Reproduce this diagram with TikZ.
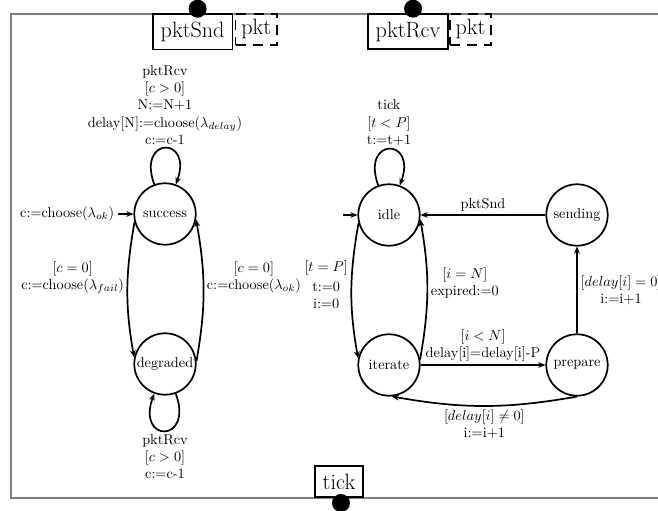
\documentclass[tikz,border=0pt]{standalone}
\usetikzlibrary{arrows.meta}

\begin{document}
\begin{tikzpicture}[x=0.7pt, y=0.7pt,
  state/.style={circle, draw, line width=1.2pt, minimum size=43pt, inner sep=0pt},
  chan/.style={draw, line width=1.2pt, fill=white, inner sep=5.5pt, font=\fontsize{15.5}{18}\selectfont},
  pktbox/.style={draw, line width=1.2pt, dash pattern=on 7pt off 5pt, inner sep=4pt, font=\fontsize{15.5}{18}\selectfont},
  port/.style={circle, fill, minimum size=12.6pt, inner sep=0pt},
  guard/.style={align=center, inner sep=2pt},
  trans/.style={line width=1.2pt, -{Stealth[length=5pt, width=4pt]}}]
  \useasboundingbox (0,0) rectangle (658,511);
  \draw[gray, line width=1.2pt] (11,13) rectangle (720,497);

  \node[chan, anchor=north west] (pktSnd) at (152,498) {pktSnd};
  \node[pktbox, anchor=north west] (sndPkt) at ([xshift=1pt]pktSnd.north east) {pkt};
  \node[port] (sndPort) at ([xshift=3.5pt, yshift=3pt]pktSnd.north) {};
  \node[chan, anchor=north west] (pktRcv) at (367,498) {pktRcv};
  \node[pktbox, anchor=north west] (rcvPkt) at (pktRcv.north east) {pkt};
  \node[port] (rcvPort) at ([xshift=3.5pt, yshift=3pt]pktRcv.north) {};
  \node[chan, anchor=south west] (tick) at (314,13) {tick};
  \node[port] (tickPort) at ([xshift=1.4pt, yshift=-3.5pt]tick.south) {};

  \node[state] (success) at (165,297) {success};
  \node[state] (degraded) at (165,147) {degraded};
  \node[state] (idle) at (389,296) {idle};
  \node[state] (sending) at (577,296) {sending};
  \node[state] (iterate) at (389,146) {iterate};
  \node[state] (prepare) at (577,146) {prepare};
  \coordinate (sInit) at (118,297);
  \coordinate (iInit) at (343,296);

  \draw[trans] (sInit) node[left, guard] {c:=choose($\lambda_{ok}$)} -- (success);
  \draw[trans] (success.110) .. controls +(110:36pt) and +(70:36pt) .. (success.70)
    node[midway, above, guard] {pktRcv\\$[c>0]$\\N:=N+1\\delay[N]:=choose($\lambda_{delay}$)\\c:=c-1};
  \draw[trans] (success.195) to[out=260, in=100]
    node[pos=0.4, left, guard] {$[c=0]$\\c:=choose($\lambda_{fail}$)} (degraded.168);
  \draw[trans] (degraded.5) to[out=80, in=-80]
    node[pos=0.6, right, guard] {$[c=0]$\\c:=choose($\lambda_{ok}$)} (success.-10);
  \draw[trans] (degraded.-70) .. controls +(-70:37pt) and +(-110:37pt) .. (degraded.-110)
    node[midway, below, guard] {pktRcv\\$[c>0]$\\c:=c-1};

  \draw[trans] (iInit) -- (idle);
  \draw[trans] (idle.110) .. controls +(110:36pt) and +(70:36pt) .. (idle.70)
    node[midway, above, guard] {tick\\$[t<P]$\\t:=t+1};
  \draw[trans] (sending) -- node[above, guard] {pktSnd} (idle);
  \draw[trans] (idle.195) to[out=260, in=100]
    node[pos=0.45, left, guard] {$[t=P]$\\[2pt]t:=0\\i:=0} (iterate.168);
  \draw[trans] (iterate.10) to[out=80, in=-80]
    node[pos=0.55, right, guard] {$[i=N]$\\expired:=0} (idle.-8);
  \draw[trans] (iterate) -- node[above, guard] {$[i<N]$\\delay[i]=delay[i]-P} (prepare);
  \draw[trans] (prepare.-90) to[bend left=10]
    node[below, guard] {$[delay[i]\neq 0]$\\i:=i+1} (iterate.-85);
  \draw[trans] (prepare) -- node[right, guard] {$[delay[i]=0]$\\i:=i+1} (sending);
\end{tikzpicture}
\end{document}
